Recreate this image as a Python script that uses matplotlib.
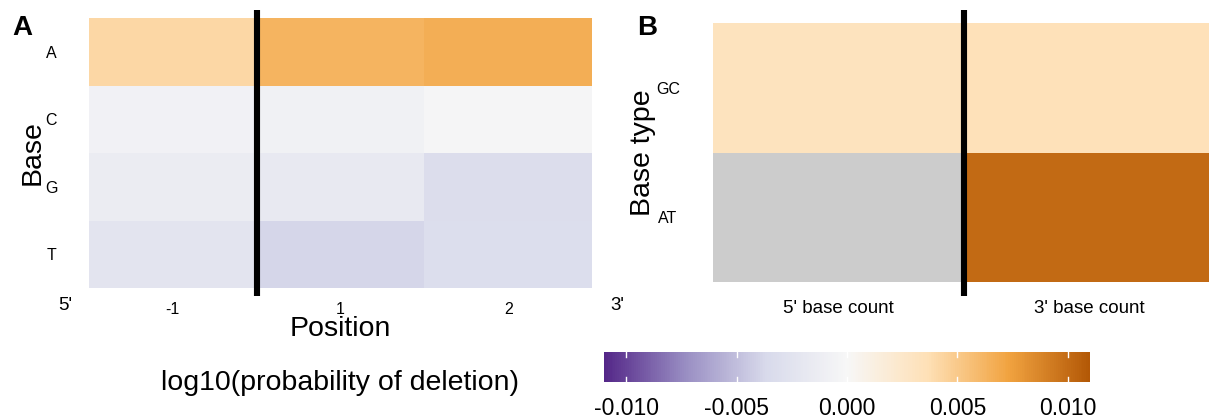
import matplotlib
matplotlib.use("Agg")
import matplotlib.pyplot as plt
import numpy as np
from matplotlib.colors import LinearSegmentedColormap, Normalize
import matplotlib.colorbar as mcolorbar

plt.rcParams['font.family'] = ['Liberation Sans', 'DejaVu Sans']

# panel A: base x position
positions = ['-1', '1', '2']
bases = ['A', 'C', 'G', 'T']
vals_A = [0.0042, 0.0063, 0.0067]
vals_C = [-0.0007, -0.0008, -0.0002]
vals_G = [-0.0014, -0.0018, -0.0032]
vals_T = [-0.0024, -0.0038, -0.0031]

# panel B: base type x side
count_labels = ["5' base count", "3' base count"]
base_types = ['GC', 'AT']
vals_GC = [0.0032, 0.0035]
vals_AT = [np.nan, 0.0101]

cbar_ticks = [-0.010, -0.005, 0.000, 0.005, 0.010]

# PuOr (7 class), purple low -> orange high
puor = ['#542788', '#998ec3', '#d8daeb', '#f7f7f7', '#fee0b6', '#f1a340', '#b35806']
cmap = LinearSegmentedColormap.from_list('puor', puor)
cmap.set_bad('#cccccc')
norm = Normalize(vmin=-0.011, vmax=0.011)

W, H = 1209, 418
fig = plt.figure(figsize=(W / 100, H / 100), dpi=100)


def px_axes(x0, y0, x1, y1):
    return fig.add_axes([x0 / W, 1 - y1 / H, (x1 - x0) / W, (y1 - y0) / H])


# ---- panel A ----
axA = px_axes(89, 18, 592, 288)
mA = np.array([vals_A, vals_C, vals_G, vals_T])
axA.pcolormesh(np.ma.masked_invalid(mA), cmap=cmap, norm=norm)
axA.set_xlim(0, len(positions))
axA.set_ylim(len(bases), 0)
axA.plot([1, 1], [-0.12, len(bases) + 0.12], color='black', lw=4.4,
         clip_on=False, solid_capstyle='butt')
axA.set_xticks(np.arange(len(positions)) + 0.5)
axA.set_xticklabels(positions, fontsize=11.5)
axA.set_yticks(np.arange(len(bases)) + 0.5)
axA.set_yticklabels(bases, fontsize=11.5, ha='center')
axA.tick_params(length=0)
axA.tick_params(axis='y', pad=27)
axA.tick_params(axis='x', pad=10)
for s in axA.spines.values():
    s.set_visible(False)
axA.set_ylabel('Base', fontsize=20.5)
axA.yaxis.set_label_coords(-0.0855, 0.5)
axA.set_xlabel('Position', fontsize=20.5, labelpad=-0.8)
fig.text(65 / W, 1 - 305 / H, "5'", fontsize=13.5, ha='center', va='center')
fig.text(617 / W, 1 - 305 / H, "3'", fontsize=13.5, ha='center', va='center')
fig.text(22 / W, 1 - 28 / H, 'A', fontsize=20, fontweight='bold', ha='center', va='center')

# ---- panel B ----
axB = px_axes(713, 23, 1215, 282)
mB = np.array([vals_GC, vals_AT])
axB.pcolormesh(np.ma.masked_invalid(mB), cmap=cmap, norm=norm)
axB.set_xlim(0, len(count_labels))
axB.set_ylim(len(base_types), 0)
axB.plot([1, 1], [-0.1, len(base_types) + 0.108], color='black', lw=4.4,
         clip_on=False, solid_capstyle='butt')
axB.set_xticks(np.arange(len(count_labels)) + 0.5)
axB.set_xticklabels(count_labels, fontsize=13.5)
axB.set_yticks(np.arange(len(base_types)) + 0.5)
axB.set_yticklabels(base_types, fontsize=11.5, ha='center')
axB.tick_params(length=0)
axB.tick_params(axis='y', pad=32.4)
axB.tick_params(axis='x', pad=13)
for s in axB.spines.values():
    s.set_visible(False)
axB.set_ylabel('Base type', fontsize=20.5)
axB.yaxis.set_label_coords(-0.1135, 0.5)
fig.text(647 / W, 1 - 28 / H, 'B', fontsize=20, fontweight='bold', ha='center', va='center')

# ---- colour bar ----
cax = px_axes(604, 352, 1090, 382)
cb = mcolorbar.ColorbarBase(cax, cmap=cmap, norm=norm, orientation='horizontal')
cb.outline.set_visible(False)
cb.set_ticks(cbar_ticks)
cb.set_ticklabels(['%.3f' % t for t in cbar_ticks])
cax.tick_params(length=0, labelsize=16.5, pad=10.5)
for t in cbar_ticks:
    cax.axvline(t, 0, 0.18, color='white', lw=1)
    cax.axvline(t, 0.82, 1, color='white', lw=1)
fig.text(340 / W, 1 - 383 / H, 'log10(probability of deletion)', fontsize=20.5,
         ha='center', va='center')

fig.savefig('out.png', dpi=100)
